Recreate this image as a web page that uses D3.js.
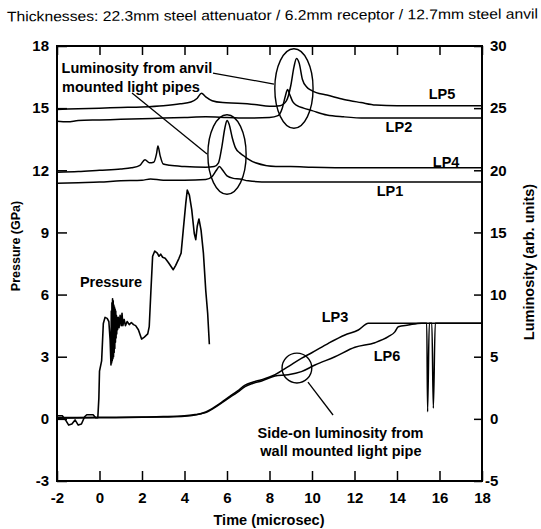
<!DOCTYPE html>
<html>
<head>
<meta charset="utf-8">
<script src="https://cdn.jsdelivr.net/npm/d3@7"></script>
<style>
  html, body { margin: 0; padding: 0; background: #fff; }
  svg { display: block; }
  text { font-family: "Liberation Sans", Arial, sans-serif; fill: #000; }
</style>
</head>
<body>
<svg id="chart" width="541" height="529"></svg>
<script>
// ---------------- DATA ----------------
const titleText = "Thicknesses: 22.3mm steel attenuator / 6.2mm receptor / 12.7mm steel anvil";
const xTicks = [-2, 0, 2, 4, 6, 8, 10, 12, 14, 16, 18];
const pTicks = [-3, 0, 3, 6, 9, 12, 15, 18];
const lTicks = [-5, 0, 5, 10, 15, 20, 25, 30];

// Pressure (GPa) vs time (microsec)
const pressT = [-2, -1.75, -1.6, -1.45, -1.3, -1.15, -1.0, -0.85, -0.7, -0.6, -0.3, -0.18, -0.08, -0.03, 0.0, 0.1, 0.18, 0.26, 0.36, 0.44, 0.5,
  0.54, 0.555, 0.57, 0.585, 0.6, 0.615, 0.63, 0.645, 0.66, 0.675, 0.69, 0.705, 0.72, 0.735, 0.75, 0.765, 0.78, 0.795, 0.81, 0.83, 0.85,
  0.88, 0.92, 0.97, 1.02, 1.06, 1.1, 1.16, 1.22, 1.3, 1.4, 1.5, 1.6, 1.7,
  1.83, 1.98, 2.11, 2.27, 2.34, 2.42, 2.5, 2.6, 2.72, 2.8, 2.88, 2.97, 3.09, 3.24, 3.47, 3.58, 3.74, 3.84, 3.94, 4.06, 4.13, 4.23, 4.34,
  4.46, 4.53, 4.6, 4.68, 4.78, 4.89, 5.0, 5.09, 5.17];
const pressV = [0.15, 0.15, -0.05, -0.3, -0.25, -0.05, -0.3, -0.25, 0.1, 0.2, 0.2, 0.05, 0.05, 1.0, 2.3, 2.8, 4.6, 4.9, 4.85, 4.7, 3.8,
  2.6, 5.2, 2.7, 5.6, 2.8, 5.8, 2.9, 5.7, 3.0, 5.5, 3.2, 5.4, 3.4, 5.3, 3.7, 5.2, 3.9, 5.0, 4.1, 4.9, 4.3,
  4.9, 4.4, 5.0, 4.5, 5.1, 4.5, 4.8, 4.5, 4.7, 4.55, 4.65, 4.55, 4.5,
  4.3, 3.85, 3.95, 4.1, 4.45, 6.2, 7.85, 8.1, 8.0, 7.85, 7.95, 7.8, 7.75, 7.55, 7.2, 7.4, 7.75, 8.0, 9.1, 10.4, 11.05, 10.8, 10.1,
  8.95, 8.65, 9.3, 9.65, 9.1, 8.0, 6.2, 5.1, 3.6];

// Luminosity (arb. units) vs time, anvil mounted light pipes
const lp5T = [-2, -1, 0, 1, 2, 3, 3.8, 4.3, 4.6, 4.8, 5.0, 5.3, 5.8, 6.5, 7.3, 8.0, 8.5, 8.8, 9.0, 9.15, 9.27, 9.4, 9.55, 9.75, 9.95, 10.2, 10.7, 11.5, 12.3, 13.0, 14, 16, 18];
const lp5V = [24.9, 24.95, 25.0, 25.05, 25.1, 25.2, 25.35, 25.5, 25.8, 26.2, 25.9, 25.6, 25.45, 25.4, 25.3, 25.15, 25.2, 25.6, 26.8, 28.3, 29.0, 28.6, 27.3, 26.7, 26.45, 26.25, 26.05, 25.7, 25.45, 25.25, 25.2, 25.2, 25.2];
const lp2T = [-2, -1.5, -1, 0, 1, 2, 3, 4, 5, 6, 7, 8, 8.4, 8.6, 8.75, 8.85, 8.95, 9.1, 9.3, 9.6, 10.0, 10.7, 11.5, 12.5, 14, 16, 18];
const lp2V = [23.95, 23.9, 24.0, 24.05, 24.1, 24.15, 24.2, 24.25, 24.3, 24.25, 24.2, 24.25, 24.4, 25.0, 26.0, 26.5, 26.1, 25.5, 25.2, 25.0, 24.8, 24.45, 24.3, 24.2, 24.2, 24.2, 24.2];
const lp4T = [-2, -1, 0, 1, 1.5, 1.9, 2.14, 2.35, 2.55, 2.68, 2.75, 2.85, 3.0, 3.3, 4, 5, 5.4, 5.6, 5.75, 5.9, 6.0, 6.1, 6.25, 6.4, 6.6, 6.8, 7.0, 7.34, 8.3, 9, 10, 12, 14, 18];
const lp4V = [19.85, 19.9, 20.0, 20.1, 20.2, 20.4, 20.85, 20.6, 20.65, 21.3, 21.95, 21.2, 20.5, 20.4, 20.3, 20.25, 20.3, 20.6, 21.8, 23.4, 24.0, 23.7, 22.6, 21.8, 21.4, 21.15, 20.9, 20.6, 20.3, 20.3, 20.25, 20.2, 20.2, 20.2];
const lp1T = [-2, -1, 0, 1, 2, 2.4, 3, 4, 5, 5.3, 5.5, 5.64, 5.8, 6.0, 6.3, 6.6, 7, 8, 10, 14, 18];
const lp1V = [18.95, 19.0, 19.05, 19.15, 19.2, 19.3, 19.2, 19.2, 19.25, 19.5, 20.0, 20.3, 20.0, 19.55, 19.35, 19.3, 19.15, 19.05, 19.05, 19.05, 19.05];

// Side-on luminosity, wall mounted light pipes
const lp3T = [-2, 0, 2, 3, 4, 4.5, 5, 5.44, 6.06, 6.5, 6.85, 7.2, 7.63, 8.26, 8.88, 9.5, 9.99, 10.77, 11.55, 12.18, 12.65, 13, 14, 15, 15.4, 15.44, 15.52, 16, 17, 18];
const lp3V = [0.05, 0.08, 0.12, 0.15, 0.2, 0.3, 0.55, 0.98, 1.73, 2.25, 2.72, 2.95, 3.15, 3.55, 4.2, 4.87, 5.32, 6.08, 6.75, 7.15, 7.69, 7.7, 7.7, 7.7, 7.7, 0.57, 7.7, 7.7, 7.7, 7.7];
const lp6T = [-2, 0, 2, 3, 4, 4.5, 5, 5.44, 6.06, 6.5, 6.85, 7.2, 7.63, 8.26, 8.88, 9.5, 10.14, 11.08, 12.02, 12.96, 13.59, 13.9, 14.06, 14.53, 15.16, 15.5, 15.64, 15.71, 15.8, 16, 18];
const lp6V = [0.1, 0.12, 0.15, 0.18, 0.25, 0.35, 0.5, 0.92, 1.65, 2.15, 2.6, 2.85, 3.05, 3.45, 3.55, 3.8, 4.33, 5.0, 5.76, 6.13, 6.61, 7.0, 7.41, 7.55, 7.7, 7.7, 7.7, 0.85, 7.7, 7.7, 7.7];

// Annotations (time, luminosity)
const ellipseCx = [6.0, 9.15, 9.29];
const ellipseCy = [21.27, 26.58, 4.09];
const ellipseRx = [0.9, 0.9, 0.7];
const ellipseRy = [3.2, 3.2, 1.2];
const pointerX1 = [1.53, 5.34, 9.81];
const pointerY1 = [26.21, 27.82, 2.96];
const pointerX2 = [5.06, 8.21, 10.99];
const pointerY2 = [21.31, 26.94, 0.31];
const labelText = ["Luminosity from anvil", "mounted light pipes", "LP5", "LP2", "LP4", "LP1", "LP3", "LP6", "Side-on luminosity from", "wall mounted light pipe"];
const labelX = [1.76, 1.48, 16.12, 14.09, 16.31, 13.67, 11.08, 13.53, 11.34, 11.36];
const labelY = [28.23, 26.7, 26.13, 23.48, 20.66, 18.33, 8.19, 5.06, -1.14, -2.59];
const pressureLabel = { text: "Pressure", t: 0.54, p: 6.61 };

// ---------------- CHART ----------------
const svg = d3.select("#chart");
const L = 57, R = 482, T = 46, B = 481;

const x = d3.scaleLinear().domain([-2, 18]).range([L, R]);
const yP = d3.scaleLinear().domain([-3, 18]).range([B, T]);
const yL = d3.scaleLinear().domain([-5, 30]).range([B, T]);

// title
svg.append("text")
  .attr("x", 7).attr("y", 20)
  .attr("textLength", 531).attr("lengthAdjust", "spacingAndGlyphs")
  .attr("transform", "rotate(-0.3 270 16)")
  .style("font-size", "14px")
  .text(titleText);

const fmt = d => String(d);
function styleAxis(g) {
  g.select(".domain").remove();
  g.selectAll(".tick line").attr("stroke", "#000").attr("stroke-width", 1.5);
  g.selectAll(".tick text").style("font-size", "15px").style("font-weight", "bold")
    .style("font-family", '"Liberation Sans", Arial, sans-serif').attr("fill", "#000");
}

svg.append("g").attr("transform", `translate(0,${B})`)
  .call(d3.axisBottom(x).tickValues(xTicks).tickSize(-10).tickPadding(11).tickFormat(fmt))
  .call(styleAxis);
svg.append("g").attr("transform", `translate(0,${T})`)
  .call(d3.axisTop(x).tickValues(xTicks).tickSize(-9).tickFormat(""))
  .call(styleAxis);
svg.append("g").attr("transform", `translate(${L},0)`)
  .call(d3.axisLeft(yP).tickValues(pTicks).tickSize(-10).tickPadding(8).tickFormat(fmt))
  .call(styleAxis);
const rAx = svg.append("g").attr("transform", `translate(${R},0)`)
  .call(d3.axisRight(yL).tickValues(lTicks).tickSize(-8).tickPadding(8).tickFormat(fmt))
  .call(styleAxis);
rAx.selectAll(".tick text").filter(d => d < 0).attr("x", 3);

// frame
svg.append("rect").attr("x", L).attr("y", T).attr("width", R - L).attr("height", B - T)
  .attr("fill", "none").attr("stroke", "#000").attr("stroke-width", 2);

// axis titles
svg.append("text").attr("x", 269).attr("y", 520).attr("dy", "0.35em").attr("text-anchor", "middle")
  .style("font-size", "14.5px").style("font-weight", "bold").text("Time (microsec)");
svg.append("text").attr("transform", "translate(16,246) rotate(-90)").attr("dy", "0.35em").attr("text-anchor", "middle")
  .style("font-size", "12.5px").style("font-weight", "bold").text("Pressure (GPa)");
svg.append("text").attr("transform", "translate(529,262) rotate(-90)").attr("dy", "0.35em").attr("text-anchor", "middle")
  .style("font-size", "14.5px").style("font-weight", "bold").text("Luminosity (arb. units)");

// series
const lineL = d3.line().x(d => x(d[0])).y(d => yL(d[1])).curve(d3.curveMonotoneX);
const lineP = d3.line().x(d => x(d[0])).y(d => yP(d[1]));
const lumSeries = [[lp5T, lp5V], [lp2T, lp2V], [lp4T, lp4V], [lp1T, lp1V], [lp3T, lp3V], [lp6T, lp6V]];
const plot = svg.append("g");
lumSeries.forEach(([t, v]) => {
  plot.append("path").datum(t.map((tt, i) => [tt, v[i]]))
    .attr("d", lineL).attr("fill", "none").attr("stroke", "#000").attr("stroke-width", 1.5)
    .attr("stroke-linejoin", "round");
});
plot.append("path").datum(pressT.map((tt, i) => [tt, pressV[i]]))
  .attr("d", lineP).attr("fill", "none").attr("stroke", "#000").attr("stroke-width", 1.6)
  .attr("stroke-linejoin", "round");

// ellipses
ellipseCx.forEach((cx, i) => {
  plot.append("ellipse")
    .attr("cx", x(cx)).attr("cy", yL(ellipseCy[i]))
    .attr("rx", x(cx + ellipseRx[i]) - x(cx)).attr("ry", yL(ellipseCy[i] - ellipseRy[i]) - yL(ellipseCy[i]))
    .attr("fill", "none").attr("stroke", "#000").attr("stroke-width", 1.4);
});
// pointers
pointerX1.forEach((x1, i) => {
  plot.append("line")
    .attr("x1", x(x1)).attr("y1", yL(pointerY1[i]))
    .attr("x2", x(pointerX2[i])).attr("y2", yL(pointerY2[i]))
    .attr("stroke", "#000").attr("stroke-width", 1.3);
});
// labels
labelText.forEach((txt, i) => {
  plot.append("text").attr("x", x(labelX[i])).attr("y", yL(labelY[i])).attr("dy", "0.35em")
    .attr("text-anchor", "middle").style("font-size", "14.5px").style("font-weight", "bold").text(txt);
});
plot.append("text").attr("x", x(pressureLabel.t)).attr("y", yP(pressureLabel.p)).attr("dy", "0.35em")
  .attr("text-anchor", "middle").style("font-size", "14.5px").style("font-weight", "bold").text(pressureLabel.text);
</script>
</body>
</html>
